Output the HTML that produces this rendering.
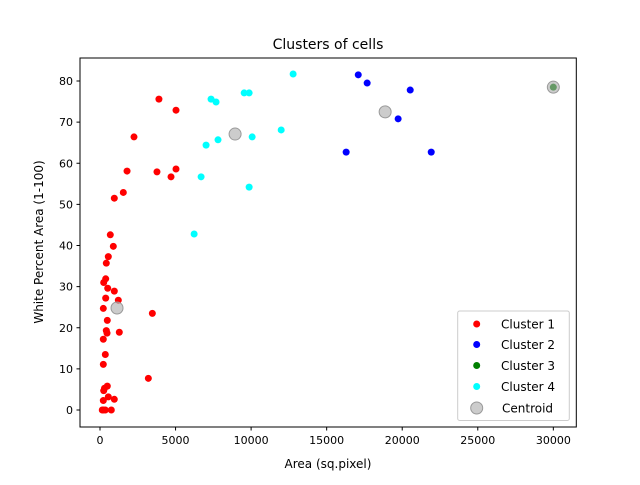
<!DOCTYPE html>
<html><head><meta charset="utf-8"><style>
body{margin:0;background:#fff}
svg text{font-family:"DejaVu Sans","Liberation Sans",sans-serif;fill:#000}
</style></head><body>
<svg width="640" height="480" viewBox="0 0 640 480" id="chart">
<rect width="640" height="480" fill="#fff"/>
<text x="328" y="49" font-size="14" text-anchor="middle">Clusters of cells</text>
<text x="328" y="468" font-size="12" text-anchor="middle">Area (sq.pixel)</text>
<text x="0" y="0" font-size="12" text-anchor="middle" transform="translate(43,242) rotate(-90)">White Percent Area (1-100)</text>
<g id="ticks"></g>
<g id="marks"></g>
<rect x="80" y="58" width="496.3" height="369" fill="none" stroke="#000" stroke-width="1"/>
<g>
<rect x="457.7" y="311" width="111.6" height="109.5" rx="2" fill="#fff" fill-opacity="0.8" stroke="#ccc"/>
<circle cx="476.7" cy="324" r="3.5" fill="red"/>
<text x="501" y="328.5" font-size="12">Cluster 1</text>
<circle cx="476.7" cy="344.5" r="3.5" fill="blue"/>
<text x="501" y="349" font-size="12">Cluster 2</text>
<circle cx="476.7" cy="365.5" r="3.5" fill="green"/>
<text x="501" y="370" font-size="12">Cluster 3</text>
<circle cx="476.7" cy="386.5" r="3.5" fill="cyan"/>
<text x="501" y="391" font-size="12">Cluster 4</text>
<circle cx="476.7" cy="408" r="6" fill="#aaa" fill-opacity="0.6" stroke="#999"/>
<text x="502" y="412.5" font-size="12">Centroid</text>
</g>
</svg>
<script>
const xTicks=[0,5000,10000,15000,20000,25000,30000];
const yTicks=[0,10,20,30,40,50,60,70,80];
const c1x=[947,1543,682,881,550,417,377,245,510,947,377,1212,219,3464,483,417,464,1278,219,351,219,3199,483,245,550,219,947,219,748,300,150,350,3900,5030,2250,1790,3770,5030,4700];
const c1y=[51.5,52.9,42.6,39.8,37.3,35.7,31.9,31.0,29.6,28.9,27.2,26.7,24.7,23.5,21.8,19.3,18.7,18.9,17.2,13.5,11.1,7.7,5.8,4.7,3.2,2.3,2.6,0,0,5.3,0,0,75.6,72.9,66.4,58.1,57.9,58.6,56.7];
const c2x=[17090,17680,20530,19730,16290,21920];
const c2y=[81.5,79.5,77.8,70.8,62.7,62.7];
const c3x=[30000];
const c3y=[78.5];
const c4x=[12780,7350,7680,9540,9870,7810,7020,10070,11990,6690,9870,6230];
const c4y=[81.7,75.6,74.9,77.1,77.1,65.7,64.4,66.4,68.1,56.7,54.2,42.8];
const cenX=[1126,8940,18870,30000];
const cenY=[24.8,67.1,72.5,78.5];
const NS='http://www.w3.org/2000/svg';
function sx(v){return 100+v*0.015111;}
function sy(v){return 410-v*4.1125;}
const tg=document.getElementById('ticks'),mg=document.getElementById('marks');
function mk(t,a,p){const e=document.createElementNS(NS,t);for(const k in a)e.setAttribute(k,a[k]);p.appendChild(e);return e;}
xTicks.forEach(v=>{const x=sx(v);
const l=mk('line',{x1:x,x2:x,y1:427,y2:430.5,stroke:'#000'},tg);


const t=mk('text',{x:x,y:444,'font-size':'11','text-anchor':'middle'},tg);t.textContent=v;

});
yTicks.forEach(v=>{const y=sy(v);
const l=mk('line',{x1:76.5,x2:80,y1:y,y2:y,stroke:'#000'},tg);


const t=mk('text',{x:73,y:y+4,'font-size':'11','text-anchor':'end'},tg);t.textContent=v;

});
function series(xs,ys,col,name){xs.forEach((v,i)=>{const c=mk('circle',{cx:sx(v),cy:sy(ys[i]),r:3.5,fill:col},mg);

});}
series(c1x,c1y,'red','cluster-1-point');
series(c2x,c2y,'blue','cluster-2-point');
series(c3x,c3y,'green','cluster-3-point');
series(c4x,c4y,'cyan','cluster-4-point');
cenX.forEach((v,i)=>{const c=mk('circle',{cx:sx(v),cy:sy(cenY[i]),r:6,fill:'#aaa','fill-opacity':0.6,stroke:'#999'},mg);

});
</script>
</body></html>
